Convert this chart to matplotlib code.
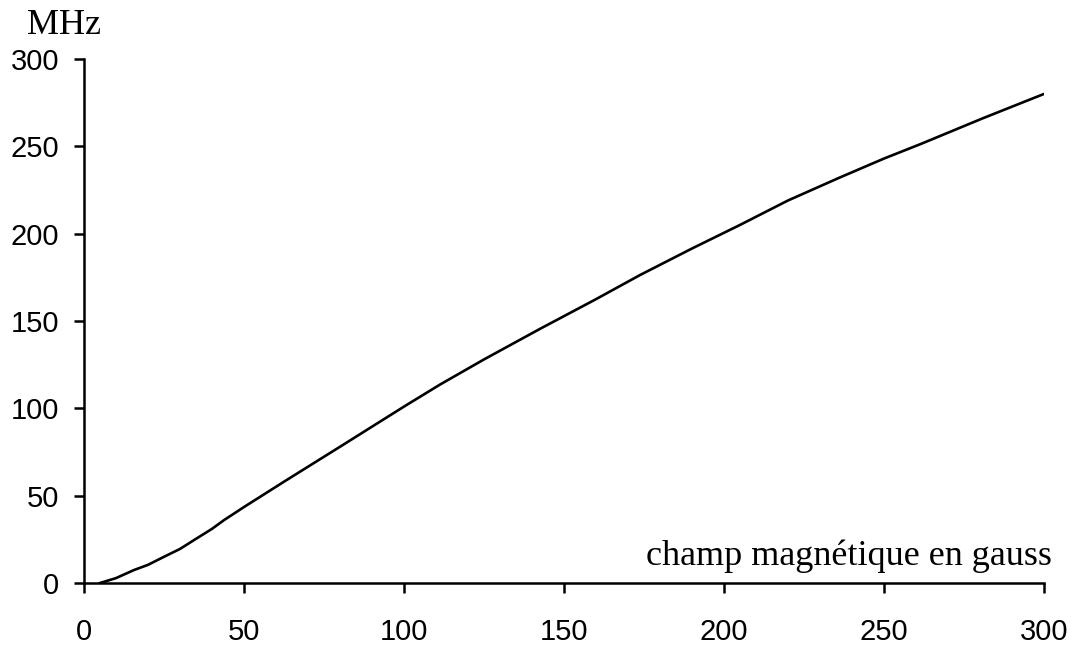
import matplotlib
matplotlib.use("Agg")
import matplotlib.pyplot as plt

# Data
field_gauss = [5, 10, 15.6, 20, 25, 30, 34.4, 40, 43.75, 50, 62.5, 80, 100,
               111.25, 125, 142.5, 160, 173.75, 190, 205, 220, 236.25, 250,
               261.7, 280.8, 300]
freq_mhz = [0, 2.8, 7.4, 10.4, 15, 19.5, 24.6, 31, 36, 43.5, 58, 78, 101,
            113.6, 128, 145.5, 162.5, 176.3, 191.5, 205, 219, 232.2, 243,
            251.5, 266, 280]
x_ticks = [0, 50, 100, 150, 200, 250, 300]
y_ticks = [0, 50, 100, 150, 200, 250, 300]
y_unit = "MHz"
x_title = "champ magnétique en gauss"

fig = plt.figure(figsize=(10.79, 6.5), dpi=100)
ax = fig.add_axes([84 / 1079, 67 / 650, 960 / 1079, 524 / 650])

ax.plot(field_gauss, freq_mhz, color="black", linewidth=1.9,
        solid_joinstyle="round")

ax.set_xlim(0, 300)
ax.set_ylim(0, 300)
ax.set_xticks(x_ticks)
ax.set_yticks(y_ticks)
for s in ("top", "right"):
    ax.spines[s].set_visible(False)
for s in ("left", "bottom"):
    ax.spines[s].set_linewidth(1.8)
    ax.spines[s].set_color("black")

ax.tick_params(axis="both", direction="out", length=7, width=1.8, colors="black",
               labelsize=21)
ax.tick_params(axis="y", pad=11)
ax.tick_params(axis="x", pad=18)
for lab in ax.get_xticklabels() + ax.get_yticklabels():
    lab.set_family("Liberation Sans")

fig.text(27 / 1079, 1 - 34 / 650, y_unit, family="Liberation Serif", fontsize=26,
         ha="left", va="baseline")
fig.text(1052 / 1079, 1 - 565 / 650, x_title,
         family="Liberation Serif", fontsize=26, ha="right", va="baseline")

fig.savefig("out.png", dpi=100)
